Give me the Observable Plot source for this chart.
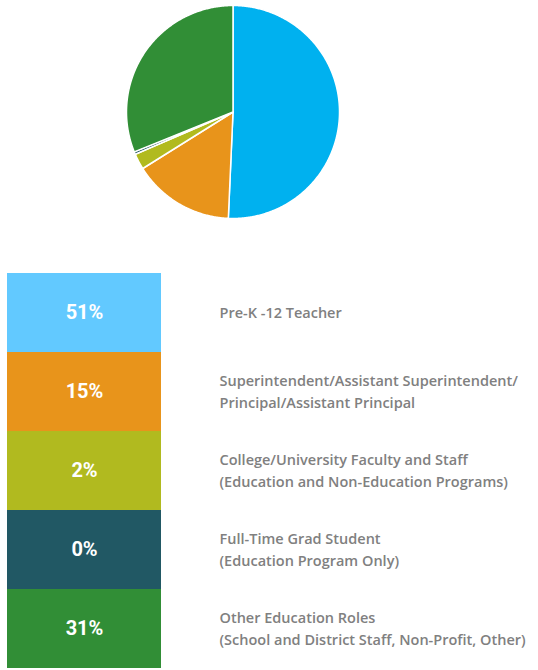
<!DOCTYPE html>
<html>
<head>
<meta charset="utf-8">
<script src="https://cdn.jsdelivr.net/npm/d3@7"></script>
<script src="https://cdn.jsdelivr.net/npm/@observablehq/plot@0.6"></script>
<style>
  html, body { margin: 0; padding: 0; background: #fff; }
  #chart svg { display: block; }
</style>
</head>
<body>
<div id="chart"></div>
<script>
const categories = [
  "Pre-K -12 Teacher",
  "Superintendent/Assistant Superintendent/\nPrincipal/Assistant Principal",
  "College/University Faculty and Staff\n(Education and Non-Education Programs)",
  "Full-Time Grad Student\n(Education Program Only)",
  "Other Education Roles\n(School and District Staff, Non-Profit, Other)"
];
const values = [50.7, 15.4, 2.4, 0.4, 31.1];
const pctLabels = ["51%", "15%", "2%", "0%", "31%"];
const pieColors = ["#00b1ef", "#e8941b", "#b1ba1f", "#215864", "#318e36"];
const legendColors = ["#62c9ff", "#e8941b", "#b1ba1f", "#215864", "#318e36"];

// Build pie slice outlines in data space (unit circle), angles clockwise from top
const total = d3.sum(values);
const pieRows = [];
let acc = 0;
values.forEach((v, i) => {
  const a0 = acc / total * 2 * Math.PI;
  acc += v;
  const a1 = acc / total * 2 * Math.PI;
  const n = Math.max(2, Math.ceil((a1 - a0) / (Math.PI / 360)));
  pieRows.push({cat: categories[i], x: 0, y: 0});
  for (let k = 0; k <= n; k++) {
    const a = a0 + (a1 - a0) * k / n;
    pieRows.push({cat: categories[i], x: Math.sin(a), y: Math.cos(a)});
  }
  pieRows.push({cat: categories[i], x: 0, y: 0});
});

const cx = 232.5, cy = 111.5, r = 106.5;
const pie = Plot.plot({
  width: 538,
  height: 271,
  margin: 0,
  x: {domain: [-1, 1], range: [cx - r, cx + r], axis: null},
  y: {domain: [-1, 1], range: [cy + r, cy - r], axis: null},
  color: {domain: categories, range: pieColors},
  marks: [
    Plot.line(pieRows, {
      x: "x", y: "y", z: "cat", fill: "cat",
      stroke: "white", strokeWidth: 1.5, strokeLinejoin: "round", curve: "linear"
    })
  ]
});

const legendRows = categories.map((c, i) => ({cat: c, pct: pctLabels[i], color: legendColors[i]}));
const legend = Plot.plot({
  width: 538,
  height: 399,
  margin: 0,
  x: {domain: [0, 1], range: [7, 161], axis: null},
  y: {domain: categories, range: [0, 399], padding: 0, axis: null},
  style: {fontFamily: "'Open Sans', Roboto, sans-serif"},
  marks: [
    Plot.barX(legendRows, {x1: 0, x2: 1, y: "cat", fill: "color"}),
    Plot.text(legendRows, {
      x: 0.5, y: "cat", text: "pct", fill: "white",
      fontSize: 20, fontWeight: "bold", fontFamily: "Roboto, sans-serif"
    }),
    Plot.text(legendRows, {
      y: "cat", text: "cat", frameAnchor: "left", dx: 219, dy: -2,
      textAnchor: "start", fill: "#808080", fontSize: 14.5, fontWeight: 600, lineHeight: 1.52
    })
  ]
});

const root = document.getElementById("chart");
root.appendChild(pie);
root.appendChild(legend);
</script>
</body>
</html>
